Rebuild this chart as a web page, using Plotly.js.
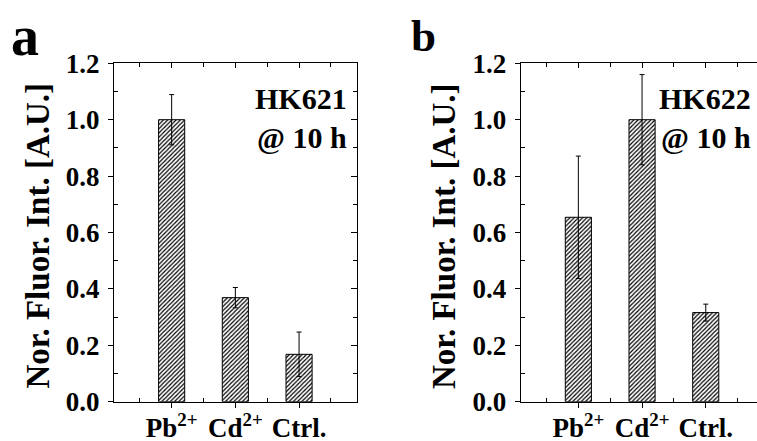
<!DOCTYPE html>
<html>
<head>
<meta charset="utf-8">
<script src="https://cdn.plot.ly/plotly-3.0.1.min.js"></script>
<style>
html,body{margin:0;padding:0;width:757px;height:441px;overflow:hidden;background:#fff;}
#chart{width:770px;height:441px;}
</style>
</head>
<body>
<div id="chart"></div>
<script>
// ---- data ----
const categories = ["Pb<sup>2+</sup>", "Cd<sup>2+</sup>", "Ctrl."];
const hk621Values = [1.00, 0.369, 0.168];
const hk621Errors = [0.089, 0.036, 0.079];
const hk622Values = [0.654, 1.00, 0.316];
const hk622Errors = [0.217, 0.160, 0.030];
const yTickVals = [0, 0.2, 0.4, 0.6, 0.8, 1.0, 1.2];
const yTickText = ["0.0", "0.2", "0.4", "0.6", "0.8", "1.0", "1.2"];
const panelLabels = ["a", "b"];
const panelNotes = ["HK621<br>@ 10 h", "HK622<br>@ 10 h"];
const yTitle = "Nor. Fluor. Int. [A.U.]";

const W = 770, H = 441;
const FONT = "Liberation Serif";
const xIdx = categories.map((c, i) => i);
const xRange = [-0.905, 2.905];
const yRange = [0, 1.2];
const yDom = [1 - 401.7 / H, 1 - 63.3 / H];
const domA = [114 / W, 356.7 / W];
const domB = [520.7 / W, 763.4 / W];
const bold = s => "<b>" + s + "</b>";

function barTrace(vals, errs, xa, ya) {
  return {
    type: "bar", x: xIdx, y: vals, xaxis: xa, yaxis: ya, width: 0.41,
    marker: {color: "white", line: {color: "black", width: 1},
      pattern: {shape: "/", fgcolor: "black", bgcolor: "white", size: 3, solidity: 0.4}},
    error_y: {type: "data", array: errs, visible: true, color: "black", thickness: 1, width: 2.5},
    hoverinfo: "skip", showlegend: false
  };
}
function dummy(xa, ya) {
  return {type: "scatter", x: [0], y: [-1], xaxis: xa, yaxis: ya, mode: "markers", opacity: 0, showlegend: false, hoverinfo: "skip"};
}

const tickFont = {family: FONT, size: 27, color: "black"};
const minorX = {tickmode: "linear", tick0: 0.5, dtick: 1, ticks: "inside", ticklen: 4, tickcolor: "black", tickwidth: 1, showgrid: false};
const minorY = {tickmode: "linear", tick0: 0.1, dtick: 0.2, ticks: "inside", ticklen: 4, tickcolor: "black", tickwidth: 1, showgrid: false};

function mainX(dom, anchor) {
  return {domain: dom, anchor: anchor, range: xRange, showgrid: false, zeroline: false,
    showline: true, linecolor: "black", linewidth: 1,
    tickmode: "array", tickvals: xIdx, ticktext: categories.map(bold),
    ticks: "", minor: minorX,
    tickfont: tickFont, ticklabelstandoff: 2, fixedrange: true};
}
function outX(over, anchor) {
  return {overlaying: over, anchor: anchor, side: "bottom", range: xRange, showgrid: false, zeroline: false,
    showline: false, showticklabels: false,
    tickmode: "array", tickvals: xIdx, ticks: "outside", ticklen: 5, tickcolor: "black", tickwidth: 1,
    fixedrange: true};
}
function mainY(anchor) {
  return {domain: yDom, anchor: anchor, range: yRange, showgrid: false, zeroline: false,
    showline: true, linecolor: "black", linewidth: 1,
    tickmode: "array", tickvals: yTickVals, ticktext: yTickText.map(bold),
    ticks: "outside", ticklen: 5, tickcolor: "black", tickwidth: 1,
    minor: minorY,
    tickfont: tickFont, ticklabelstandoff: 3, fixedrange: true};
}
function mirrorX(over, anchor) {
  return {overlaying: over, anchor: anchor, side: "top", range: xRange, showgrid: false, zeroline: false,
    showline: true, linecolor: "black", linewidth: 1, showticklabels: false,
    tickmode: "array", tickvals: xIdx, ticks: "inside", ticklen: 5, tickcolor: "black", tickwidth: 1,
    minor: minorX, fixedrange: true};
}
function mirrorY(over, anchor) {
  return {overlaying: over, anchor: anchor, side: "right", range: yRange, showgrid: false, zeroline: false,
    showline: true, linecolor: "black", linewidth: 1, showticklabels: false,
    tickmode: "array", tickvals: yTickVals, ticks: "inside", ticklen: 6, tickcolor: "black", tickwidth: 1,
    minor: Object.assign({}, minorY, {ticklen: 3.5}), fixedrange: true};
}

const data = [
  barTrace(hk621Values, hk621Errors, "x", "y"),
  barTrace(hk622Values, hk622Errors, "x2", "y2"),
  dummy("x3", "y3"),
  dummy("x4", "y4"),
  dummy("x5", "y"),
  dummy("x6", "y2")
];

const annFont = {family: FONT, size: 30, color: "black"};
const titleFont = {family: FONT, size: 33, color: "black"};
const layout = {
  width: W, height: H,
  margin: {l: 0, r: 0, t: 0, b: 0},
  paper_bgcolor: "white", plot_bgcolor: "rgba(0,0,0,0)",
  showlegend: false,
  xaxis: mainX(domA, "y"),
  yaxis: mainY("x"),
  xaxis2: mainX(domB, "y2"),
  yaxis2: mainY("x2"),
  xaxis3: mirrorX("x", "y3"),
  yaxis3: mirrorY("y", "x3"),
  xaxis4: mirrorX("x2", "y4"),
  yaxis4: mirrorY("y2", "x4"),
  xaxis5: outX("x", "y"),
  xaxis6: outX("x2", "y2"),
  annotations: [
    {xref: "paper", yref: "paper", x: 9 / W, y: 1 - 69 / H, xanchor: "left", yanchor: "bottom",
      text: bold(panelLabels[0]), showarrow: false, font: {family: FONT, size: 56, color: "black"}},
    {xref: "paper", yref: "paper", x: 409 / W, y: 1 - 63 / H, xanchor: "left", yanchor: "bottom",
      text: bold(panelLabels[1]), showarrow: false, font: {family: FONT, size: 45, color: "black"}},
    {xref: "paper", yref: "paper", x: 349 / W, y: 1 - 80 / H, xanchor: "right", yanchor: "top", align: "right",
      text: bold(panelNotes[0]), showarrow: false, font: annFont},
    {xref: "paper", yref: "paper", x: 753 / W, y: 1 - 80 / H, xanchor: "right", yanchor: "top", align: "right",
      text: bold(panelNotes[1]), showarrow: false, font: annFont},
    {xref: "paper", yref: "paper", x: 37.5 / W, y: 1 - 236 / H, xanchor: "center", yanchor: "middle", textangle: -90,
      text: bold(yTitle), showarrow: false, font: titleFont},
    {xref: "paper", yref: "paper", x: 444 / W, y: 1 - 236 / H, xanchor: "center", yanchor: "middle", textangle: -90,
      text: bold(yTitle), showarrow: false, font: titleFont}
  ]
};

Plotly.newPlot("chart", data, layout, {displayModeBar: false, staticPlot: true});
</script>
</body>
</html>
